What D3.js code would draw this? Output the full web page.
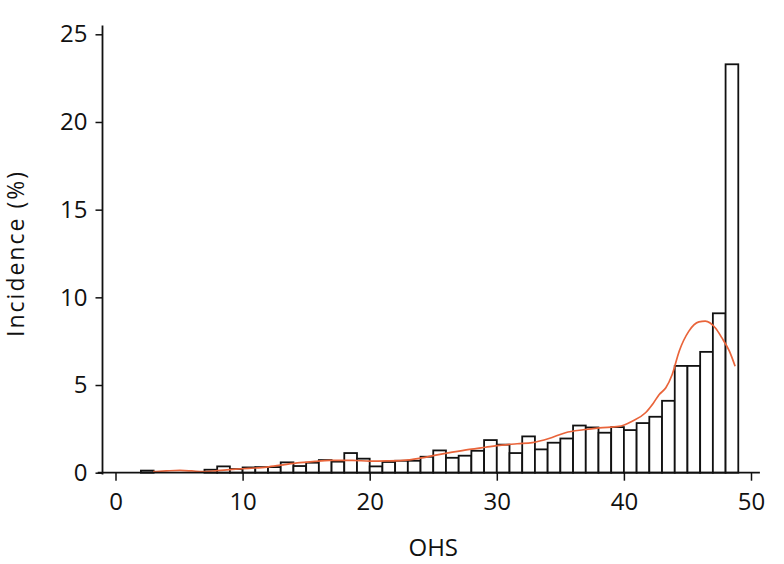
<!DOCTYPE html>
<html>
<head>
<meta charset="utf-8">
<script src="https://cdn.jsdelivr.net/npm/d3@7"></script>
<style>
  body { margin: 0; background: #fff; }
  text { font-family: "Open Sans", sans-serif; fill: #111; }
</style>
</head>
<body>
<div id="chart"></div>
<script>
// histogram bins: left edge of each one-point OHS bin and its incidence (%)
var binStart = [2, 3, 4, 5, 6, 7, 8, 9, 10, 11, 12, 13, 14, 15, 16, 17, 18, 19, 20, 21, 22, 23, 24, 25,
                26, 27, 28, 29, 30, 31, 32, 33, 34, 35, 36, 37, 38, 39, 40, 41, 42, 43, 44, 45, 46, 47, 48];
var incidence = [0.12, 0, 0, 0, 0, 0.17, 0.36, 0.21, 0.3, 0.32, 0.32, 0.59, 0.38, 0.57, 0.72, 0.63, 1.12, 0.8,
                 0.36, 0.61, 0.68, 0.68, 0.91, 1.27, 0.85, 0.97, 1.25, 1.86, 1.6, 1.12, 2.07, 1.33, 1.71, 1.95,
                 2.69, 2.58, 2.28, 2.6, 2.43, 2.83, 3.19, 4.1, 6.09, 6.09, 6.89, 9.09, 23.29];

// smoothed density curve (orange)
var curveX = [2.95, 4, 5.07, 6, 6.87, 8, 9.23, 10.5, 11.9, 13.2, 14.5, 15.7, 16.85, 18.66, 20, 21.3, 22.6,
              23.9, 25.2, 26.5, 27.85, 29.1, 30.4, 31.6, 32.8, 34.1, 35.4, 36.8, 38.06, 39.6, 40.65, 41.7,
              42.3, 42.78, 43.3, 43.8, 44.35, 45.1, 45.9, 46.4, 47.2, 47.7, 48.3, 48.75];
var curveY = [0.06, 0.1, 0.13, 0.1, 0.06, 0.12, 0.19, 0.25, 0.32, 0.45, 0.57, 0.65, 0.7, 0.7, 0.66, 0.67, 0.7,
              0.82, 1.0, 1.17, 1.33, 1.45, 1.57, 1.65, 1.72, 1.95, 2.28, 2.45, 2.56, 2.64, 2.94, 3.42,
              3.95, 4.46, 4.84, 5.6, 6.93, 8.06, 8.6, 8.64, 8.25, 7.7, 6.93, 6.07];

var xTicks = [0, 10, 20, 30, 40, 50];
var yTicks = [0, 5, 10, 15, 20, 25];

var width = 784, height = 564;

var svg = d3.select("#chart")
  .append("svg")
    .attr("width", width)
    .attr("height", height);

var x = d3.scaleLinear()
    .domain([0, 50])
    .range([115.5, 751]);

var y = d3.scaleLinear()
    .domain([0, 25])
    .range([472.7, 34.3]);

var bins = d3.zip(binStart, incidence).filter(function(d) { return d[1] > 0; });

// bars
svg.append("g")
  .selectAll("rect")
  .data(bins)
  .enter().append("rect")
    .attr("x", function(d) { return x(d[0]); })
    .attr("y", function(d) { return y(d[1]); })
    .attr("width", function(d) { return x(d[0] + 1) - x(d[0]); })
    .attr("height", function(d) { return y(0) - y(d[1]); })
    .attr("fill", "#fff")
    .attr("stroke", "#111")
    .attr("stroke-width", 1.8);

// density line
var line = d3.line()
    .x(function(d) { return x(d[0]); })
    .y(function(d) { return y(d[1]); })
    .curve(d3.curveMonotoneX);

svg.append("path")
    .datum(d3.zip(curveX, curveY))
    .attr("d", line)
    .attr("fill", "none")
    .attr("stroke", "#e9643a")
    .attr("stroke-width", 1.7);

// x axis
var xAxis = svg.append("g")
    .attr("transform", "translate(0," + y(0) + ")")
    .call(d3.axisBottom(x).tickValues(xTicks).tickSize(8).tickPadding(12));
xAxis.select(".domain").remove();
xAxis.append("line")
    .attr("x1", x(-1.4)).attr("x2", x(50.7))
    .attr("stroke", "#111").attr("stroke-width", 1.8);

// y axis
var yAxis = svg.append("g")
    .attr("transform", "translate(" + 102.5 + ",0)")
    .call(d3.axisLeft(y).tickValues(yTicks).tickSize(7).tickPadding(8));
yAxis.select(".domain").remove();
yAxis.append("line")
    .attr("y1", y(-0.1)).attr("y2", y(25.5))
    .attr("stroke", "#111").attr("stroke-width", 1.8);

svg.selectAll(".tick line").attr("stroke", "#111").attr("stroke-width", 1.5);
svg.selectAll(".tick text")
    .style("font-family", "'Open Sans', sans-serif")
    .style("font-size", "24px")
    .attr("fill", "#111");

// axis titles
svg.append("text")
    .attr("x", x(25))
    .attr("y", 556)
    .attr("text-anchor", "middle")
    .style("font-size", "24px")
    .text("OHS");

svg.append("text")
    .attr("transform", "translate(24," + y(12.5) + ") rotate(-90)")
    .attr("text-anchor", "middle")
    .style("font-size", "23px")
    .style("letter-spacing", "2px")
    .text("Incidence (%)");
</script>
</body>
</html>
